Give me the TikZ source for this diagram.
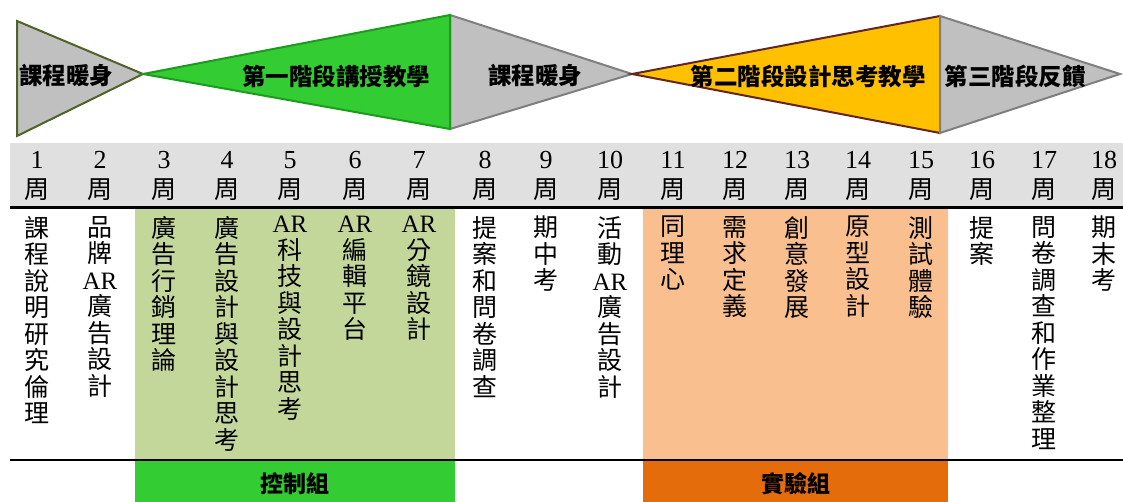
\documentclass[tikz,border=0pt]{standalone}
\usepackage{fontspec}
\setmainfont{Liberation Serif}
\newfontfamily\cjk{Noto Sans CJK TC}
\newfontfamily\lat{Liberation Serif}
\definecolor{trigray}{HTML}{C0C0C0}
\definecolor{olivebd}{HTML}{4F6228}
\definecolor{phgreen}{HTML}{33CC33}
\definecolor{phgreenbd}{HTML}{1E9A1E}
\definecolor{graybd}{HTML}{7F7F7F}
\definecolor{phyellow}{HTML}{FFC000}
\definecolor{yellowbd}{HTML}{632523}
\definecolor{band}{HTML}{E0E0E0}
\definecolor{ltgreen}{HTML}{C4D79B}
\definecolor{ltorange}{HTML}{FABF8F}
\definecolor{dkorange}{HTML}{E46C0A}
\tikzset{
  phase/.style={font=\cjk\bfseries\fontsize{23.5}{25}\selectfont, inner sep=0pt},
  num/.style={font=\lat\fontsize{26}{28}\selectfont, inner sep=0pt},
  zhou/.style={font=\cjk\fontsize{25}{26}\selectfont, inner sep=0pt},
  vt/.style={font=\cjk\fontsize{25}{26.5}\selectfont, align=center, inner sep=0pt, anchor=north},
  grp/.style={font=\cjk\bfseries\fontsize{23}{25}\selectfont, inner sep=0pt}
}
\newcommand{\AR}{{\lat AR}}
\begin{document}
\begin{tikzpicture}[x=1pt,y=-1pt]
\useasboundingbox (0,0) rectangle (1123,502);
% top phases
\draw[fill=trigray, draw=olivebd, line width=2pt, line join=miter] (17,21) -- (17,136) -- (143,74) -- cycle;
\draw[fill=trigray, draw=graybd, line width=2pt] (450,15) -- (450,129) -- (632,74) -- cycle;
\draw[fill=phgreen, draw=phgreenbd, line width=2pt] (143,74) -- (450,15) -- (450,129) -- cycle;
\draw[fill=phyellow, draw=yellowbd, line width=2pt] (632,74) -- (940,16) -- (940,133) -- cycle;
\draw[fill=trigray, draw=graybd, line width=2pt] (940,16) -- (940,133) -- (1120,74) -- cycle;
\node[phase] (p1) at (66,76) {課程暖身};
\node[phase] (p2) at (336,76) {第一階段講授教學};
\node[phase] (p3) at (535,76) {課程暖身};
\node[phase] (p4) at (808,76) {第二階段設計思考教學};
\node[phase] (p5) at (1015,76) {第三階段反饋};
% table backgrounds
\fill[band] (10,143) rectangle (1123,207);
\fill[ltgreen] (135,209) rectangle (455,460);
\fill[ltorange] (643,209) rectangle (948,460);
\fill[phgreen] (135,461) rectangle (455,502);
\fill[dkorange] (643,461) rectangle (948,502);
\draw[line width=3pt] (10,208) -- (1123,208);
\draw[line width=2pt] (10,460) -- (1123,460);
% header
\foreach \i/\x in {1/37,2/100,3/164,4/227,5/290,6/355,7/419,8/485,9/546,10/610,11/673,12/735,13/797,14/858,15/921,16/982,17/1044,18/1104}{
  \node[num] (n\i) at (\x,160) {\i};
  \node[zhou] (w\i) at (\x,190) {周};
}
% column texts
\node[vt] (t1) at (37,216) {課\\程\\說\\明\\研\\究\\倫\\理};
\node[vt] (t2) at (100,216) {品\\牌\\\AR\\廣\\告\\設\\計};
\node[vt] (t3) at (164,216) {廣\\告\\行\\銷\\理\\論};
\node[vt] (t4) at (227,216) {廣\\告\\設\\計\\與\\設\\計\\思\\考};
\node[vt] (t5) at (290,216) {\AR\\科\\技\\與\\設\\計\\思\\考};
\node[vt] (t6) at (355,216) {\AR\\編\\輯\\平\\台};
\node[vt] (t7) at (419,216) {\AR\\分\\鏡\\設\\計};
\node[vt] (t8) at (485,216) {提\\案\\和\\問\\卷\\調\\查};
\node[vt] (t9) at (546,216) {期\\中\\考};
\node[vt] (t10) at (610,216) {活\\動\\\AR\\廣\\告\\設\\計};
\node[vt] (t11) at (673,216) {同\\理\\心};
\node[vt] (t12) at (735,216) {需\\求\\定\\義};
\node[vt] (t13) at (797,216) {創\\意\\發\\展};
\node[vt] (t14) at (858,216) {原\\型\\設\\計};
\node[vt] (t15) at (921,216) {測\\試\\體\\驗};
\node[vt] (t16) at (982,216) {提\\案};
\node[vt] (t17) at (1044,216) {問\\卷\\調\\查\\和\\作\\業\\整\\理};
\node[vt] (t18) at (1104,216) {期\\末\\考};
% groups
\node[grp] (g1) at (295,484) {控制組};
\node[grp] (g2) at (796,484) {實驗組};
\end{tikzpicture}
\end{document}
